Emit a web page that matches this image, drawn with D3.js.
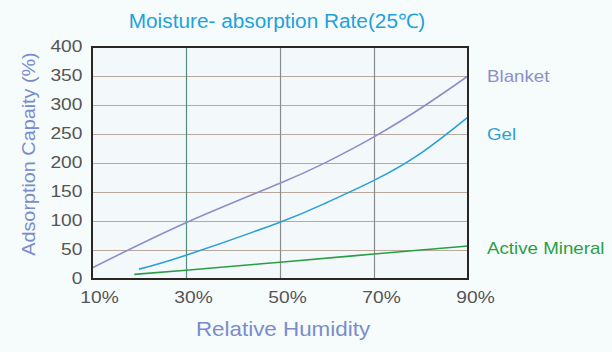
<!DOCTYPE html>
<html>
<head>
<meta charset="utf-8">
<script src="https://cdn.jsdelivr.net/npm/d3@7"></script>
<style>
  body { margin: 0; background: #f6fbfc; }
  svg { display: block; font-family: "Liberation Sans", Arial, sans-serif; }
</style>
</head>
<body>
<svg width="612" height="352"></svg>
<script>
// values
var blanketX = [10, 30, 50, 60, 70, 81, 90];
var blanket = [19, 97, 165, 202, 245, 300, 350];
var gelX = [20, 30, 50, 60, 70, 80, 90];
var gel = [17, 41, 98, 132, 170, 217, 279];
var mineralX = [19, 30, 50, 70, 90];
var mineral = [8, 15, 29, 43, 57];
var xTicks = [10, 30, 50, 70, 90];
var yTicks = [0, 50, 100, 150, 200, 250, 300, 350, 400];

var svg = d3.select("svg");
var x = d3.scaleLinear().domain([10, 90]).range([92, 468]);
var y = d3.scaleLinear().domain([0, 400]).range([279, 47]);

svg.append("rect").attr("x", 92).attr("y", 47).attr("width", 376).attr("height", 232)
  .style("fill", "#f3f9fb");

// horizontal grid
svg.append("g").attr("transform", "translate(92,0)")
  .call(d3.axisLeft(y).tickValues(yTicks).tickSize(-376).tickFormat(""))
  .call(function (g) { g.select(".domain").remove(); })
  .selectAll("line").style("stroke", "#b9a99c").style("stroke-width", 1.2);

// vertical grid
svg.append("g").attr("transform", "translate(0,279)")
  .call(d3.axisBottom(x).tickValues([30, 50, 70]).tickSize(-232).tickFormat(""))
  .call(function (g) { g.select(".domain").remove(); })
  .selectAll("line").style("stroke", function (d) { return d == 30 ? "#4f8f7e" : "#8a8a8a"; }).style("stroke-width", 1.2);

// tick labels (the reference type is a little wide, hence the scale)
svg.append("g").attr("transform", "translate(92,0)")
  .call(d3.axisLeft(y).tickValues(yTicks).tickSize(0).tickPadding(8))
  .call(function (g) { g.select(".domain").remove(); })
  .selectAll("text").style("font-size", "16px").style("fill", "#555")
  .attr("dy", "0.3em").attr("transform", "scale(1.2,1)");

svg.append("g").attr("transform", "translate(7,279)")
  .call(d3.axisBottom(x).tickValues(xTicks).tickSize(0).tickPadding(13).tickFormat(function (d) { return d + "%"; }))
  .call(function (g) { g.select(".domain").remove(); })
  .selectAll("text").style("font-size", "16px").style("fill", "#555")
  .attr("transform", "scale(1.2,1)");

var line = d3.line().curve(d3.curveNatural);

function draw(xs, ys, color) {
  svg.append("path")
    .attr("d", line(xs.map(function (d, i) { return [x(d), y(ys[i])]; })))
    .style("fill", "none").style("stroke", color).style("stroke-width", 1.6);
}
draw(blanketX, blanket, "#8b8ec9");
draw(gelX, gel, "#2c9fd8");
draw(mineralX, mineral, "#2b9e45");

// frame
svg.append("rect").attr("x", 92).attr("y", 47).attr("width", 376).attr("height", 232)
  .style("fill", "none").style("stroke", "#2a2623").style("stroke-width", 2);

function label(txt, px, py, size, sx, color, anchor) {
  svg.append("text").attr("transform", "translate(" + px + "," + py + ") scale(" + sx + ",1)")
    .attr("text-anchor", anchor || "start").text(txt)
    .style("font-size", size + "px").style("fill", color);
}

// series names
label("Blanket", 487, 82, 16, 1.17, "#8b8ec9");
label("Gel", 487, 140, 16, 1.17, "#2c9fd8");
label("Active Mineral", 487, 254, 16, 1.17, "#2b9e45");

label("Moisture- absorption Rate(25℃)", 277, 28, 20, 1.04, "#1ea2dc", "middle");
label("Relative Humidity", 283, 336, 20, 1.12, "#7a8ccb", "middle");

svg.append("text").attr("transform", "translate(35,154) rotate(-90) scale(1.1,1)").attr("text-anchor", "middle")
  .text("Adsorption Capaity (%)").style("font-size", "18px").style("fill", "#7a8ccb");
</script>
</body>
</html>
